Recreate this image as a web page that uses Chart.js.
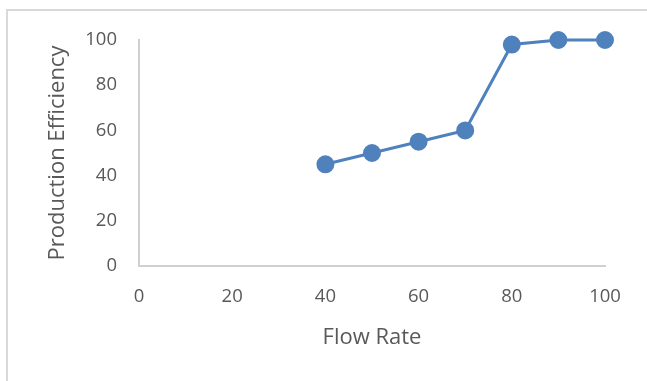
<!DOCTYPE html>
<html>
<head>
<meta charset="utf-8">
<script src="https://cdn.jsdelivr.net/npm/chart.js@4/dist/chart.umd.min.js"></script>
<style>
  body { margin: 0; background: #fff; overflow: hidden; }
  #frame {
    position: absolute; left: 6px; top: 9px; width: 700px; height: 400px;
    border-left: 2px solid #d9d9d9; border-top: 2px solid #d9d9d9;
  }
  #chart { position: absolute; left: 0; top: 0; }
</style>
</head>
<body>
<div id="frame"></div>
<canvas id="chart" width="647" height="381"></canvas>
<script>
const flowRate = [40, 50, 60, 70, 80, 90, 100];
const efficiency = [45, 50, 55, 60, 98, 100, 100];
const xTitle = 'Flow Rate';
const yTitle = 'Production Efficiency';

const axisColor = '#d0d0d0';
const textColor = '#595959';

Chart.defaults.font.family = "'Open Sans', 'Noto Sans', sans-serif";
Chart.defaults.color = textColor;

const ctx = document.getElementById('chart').getContext('2d');
const myChart = new Chart(ctx, {
    type: 'scatter',
    data: {
        datasets: [{
            data: flowRate.map((x, i) => ({ x: x, y: efficiency[i] })),
            showLine: true,
            clip: false,
            borderColor: '#4f81bd',
            backgroundColor: '#4f81bd',
            borderWidth: 3,
            pointRadius: 7.5,
            pointHoverRadius: 7.5
        }]
    },
    options: {
        responsive: false,
        animation: false,
        events: [],
        layout: { padding: { top: 40, right: 42, left: 0, bottom: 0 } },
        plugins: { legend: { display: false }, tooltip: { enabled: false } },
        scales: {
            x: {
                type: 'linear',
                min: 0, max: 100,
                ticks: { stepSize: 20, padding: 20, font: { size: 18.5 } },
                grid: { display: false, drawTicks: false },
                border: { display: true, color: axisColor, width: 2 },
                title: { display: true, text: xTitle, font: { size: 22 }, padding: { top: 0, bottom: 30 } },
                afterFit: scale => { scale.height = 115; }
            },
            y: {
                min: 0, max: 100,
                ticks: { stepSize: 20, padding: 22, font: { size: 18.5 } },
                grid: { display: false, drawTicks: false },
                border: { display: true, color: axisColor, width: 2 },
                title: { display: true, text: yTitle, font: { size: 22 }, padding: { top: 45, bottom: 0 } },
                afterFit: scale => { scale.width = 139; }
            }
        }
    }
});
</script>
</body>
</html>
